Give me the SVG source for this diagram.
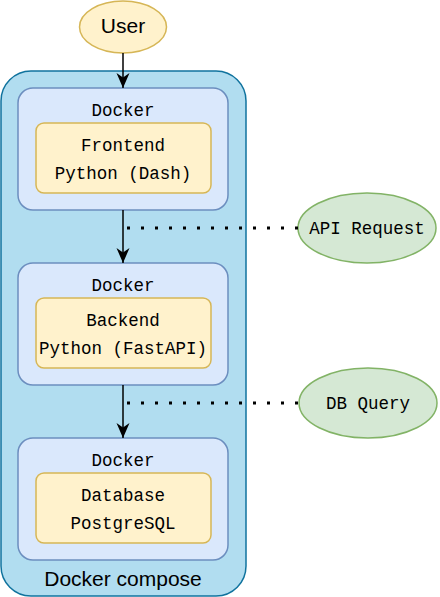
<svg xmlns="http://www.w3.org/2000/svg" width="440" height="597" viewBox="0 0 440 597">
<defs>
<style>
.mono{font-family:"Liberation Mono","DejaVu Sans Mono",monospace;font-size:17.5px;fill:#000;text-anchor:middle}
.sans{font-family:"Liberation Sans",Arial,sans-serif;font-size:21px;fill:#000;text-anchor:middle}
.docker{fill:#dae8fc;stroke:#6c8ebf;stroke-width:1.5}
.inner{fill:#fff2cc;stroke:#d6b656;stroke-width:1.5}
.green{fill:#d5e8d4;stroke:#82b366;stroke-width:1.5}
.arrow{stroke:#000;stroke-width:1.5;fill:none;marker-end:url(#ah)}
.dots{stroke:#000;stroke-width:3;fill:none;stroke-dasharray:3 11}
</style>
<marker id="ah" viewBox="0 0 16 14" refX="15" refY="7" markerWidth="16" markerHeight="14" markerUnits="userSpaceOnUse" orient="auto">
<path d="M0,0.5 L15,7 L0,13.5 L4.5,7 Z" fill="#000"/>
</marker>
</defs>
<g id="compose">
<rect x="1" y="71" width="245" height="525" rx="30" fill="#b1ddf0" stroke="#10739e" stroke-width="1.5"/>
<text class="sans" x="123" y="586">Docker compose</text>
</g>
<g id="user">
<ellipse cx="123" cy="27" rx="43.5" ry="26" fill="#fff2cc" stroke="#d6b656" stroke-width="1.5"/>
<text class="sans" x="123" y="33">User</text>
</g>
<g id="docker-frontend">
<rect class="docker" x="18" y="88" width="210" height="122" rx="15"/>
<text class="mono" x="123" y="116">Docker</text>
</g>
<g id="frontend">
<rect class="inner" x="36" y="123" width="175" height="70" rx="8"/>
<text class="mono" x="123" y="151">Frontend</text>
<text class="mono" x="123" y="179">Python (Dash)</text>
</g>
<g id="docker-backend">
<rect class="docker" x="18" y="263" width="210" height="122" rx="15"/>
<text class="mono" x="123" y="291">Docker</text>
</g>
<g id="backend">
<rect class="inner" x="36" y="298" width="175" height="70" rx="8"/>
<text class="mono" x="123" y="326">Backend</text>
<text class="mono" x="123" y="354">Python (FastAPI)</text>
</g>
<g id="docker-database">
<rect class="docker" x="18" y="438" width="210" height="122" rx="15"/>
<text class="mono" x="123" y="466">Docker</text>
</g>
<g id="database">
<rect class="inner" x="36" y="473" width="175" height="70" rx="8"/>
<text class="mono" x="123" y="501">Database</text>
<text class="mono" x="123" y="529">PostgreSQL</text>
</g>
<g id="api-request">
<ellipse class="green" cx="367" cy="228" rx="69" ry="35"/>
<text class="mono" x="367" y="234">API Request</text>
</g>
<g id="db-query">
<ellipse class="green" cx="368" cy="403" rx="69" ry="35"/>
<text class="mono" x="368" y="409">DB Query</text>
</g>
<g id="connectors">
<path class="arrow" d="M123,53 L123,88"/>
<path class="arrow" d="M123,210 L123,263"/>
<path class="arrow" d="M123,385 L123,438"/>
<path class="dots" d="M298,228 L127,228"/>
<path class="dots" d="M298,403 L127,403"/>
</g>
</svg>
